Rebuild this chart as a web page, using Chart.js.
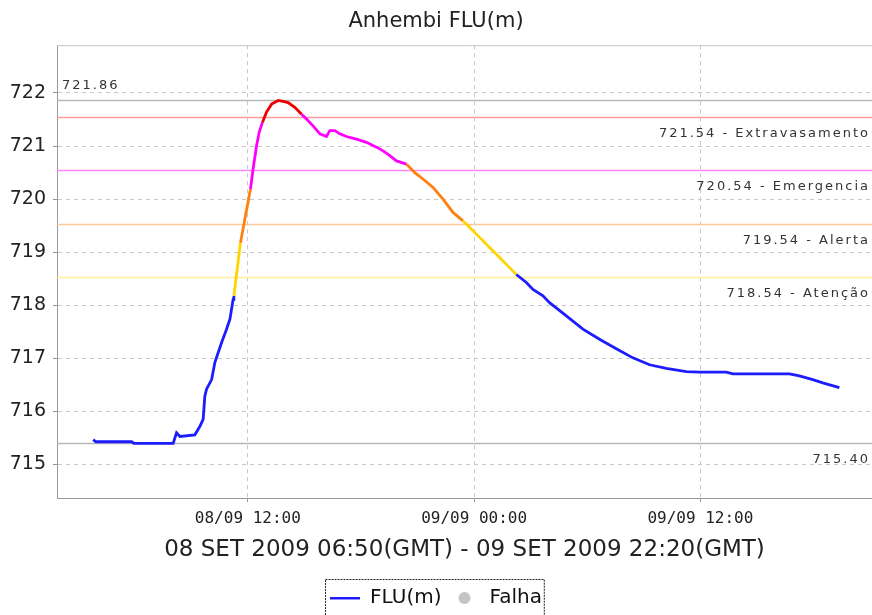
<!DOCTYPE html>
<html>
<head>
<meta charset="utf-8">
<script src="https://cdn.jsdelivr.net/npm/chart.js@4.4.1/dist/chart.umd.min.js"></script>
<style>
  html, body { margin: 0; padding: 0; background: #fff; }
</style>
</head>
<body>
<canvas id="myChart" width="872" height="615"></canvas>
<script>
// hours counted from 08/09 00:00 (local time, GMT-3)
const hours = [
  3.80, 3.94, 5.84, 5.96, 8.04, 8.22, 8.40, 9.19, 9.46, 9.63,
  9.72, 9.81, 10.08, 10.25, 10.43, 10.61, 10.87, 11.05, 11.22, 11.26,
  11.61, 12.14, 12.28, 12.46, 12.60, 12.78, 12.99, 13.26, 13.61, 13.87,
  14.14, 14.49, 14.85, 15.11, 15.46, 15.82, 16.17, 16.35, 16.61, 16.88,
  17.23, 17.76, 18.29, 18.82, 19.17, 19.53, 19.88, 20.41, 20.85, 21.29,
  21.82, 22.35, 22.88, 23.41, 23.76, 24.29, 24.82, 25.35, 25.88, 26.24,
  26.77, 27.12, 27.65, 28.00, 28.89, 29.77, 30.65, 31.54, 32.42, 33.30,
  34.19, 35.25, 35.95, 37.37, 37.72, 39.49, 40.72, 41.25, 41.96, 42.49,
  43.37
];
const level = [
  715.47, 715.43, 715.43, 715.40, 715.40, 715.60, 715.53, 715.56, 715.72, 715.85,
  716.29, 716.42, 716.60, 716.92, 717.11, 717.30, 717.55, 717.74, 718.11, 718.18,
  719.18, 720.19, 720.57, 721.00, 721.26, 721.45, 721.64, 721.79, 721.86, 721.84,
  721.82, 721.73, 721.60, 721.51, 721.38, 721.23, 721.18, 721.29, 721.29, 721.23,
  721.18, 721.13, 721.07, 720.98, 720.91, 720.82, 720.72, 720.66, 720.50, 720.38,
  720.22, 720.00, 719.75, 719.59, 719.47, 719.28, 719.09, 718.90, 718.71, 718.58,
  718.43, 718.30, 718.18, 718.05, 717.80, 717.55, 717.36, 717.18, 717.01, 716.88,
  716.81, 716.75, 716.74, 716.74, 716.71, 716.71, 716.71, 716.67, 716.60, 716.54,
  716.45
];

const limitValues = [721.86, 721.54, 720.54, 719.54, 718.54, 715.40];
const limitLabels = ['721.86', '721.54 - Extravasamento', '720.54 - Emergencia',
                     '719.54 - Alerta', '718.54 - Atenção', '715.40'];
const limitColors = ['#b8b8b8', '#ff9c9c', '#ff88ff', '#ffc898', '#fff0a0', '#b8b8b8'];

// level bands -> line colour
const bandLimits = [718.54, 719.54, 720.54, 721.54];
const bandColors = ['#1c1cff', '#ffd400', '#ff8010', '#ff00ff', '#ee0000'];

const xTicks = [12, 24, 36];
const xTickLabels = ['08/09 12:00', '09/09 00:00', '09/09 12:00'];
const yTicks = [715, 716, 717, 718, 719, 720, 721, 722];

const FONT = '"DejaVu Sans", sans-serif';

const bandColor = v => {
  let i = 0;
  while (i < bandLimits.length && v >= bandLimits[i]) i++;
  return bandColors[i];
};

// legend symbols
const lineIcon = document.createElement('canvas');
lineIcon.width = 30; lineIcon.height = 4;
let g = lineIcon.getContext('2d');
g.fillStyle = '#1c1cff'; g.fillRect(0, 1, 30, 2.5);

const dotIcon = document.createElement('canvas');
dotIcon.width = 14; dotIcon.height = 14;
g = dotIcon.getContext('2d');
g.fillStyle = '#c4c4c4'; g.beginPath(); g.arc(7, 7, 6, 0, Math.PI * 2); g.fill();

const limitLines = {
  id: 'limitLines',
  beforeDatasetsDraw(chart) {
    const {ctx, chartArea: a, scales: {y}} = chart;
    ctx.save();
    // top frame
    ctx.strokeStyle = '#c4c4c4';
    ctx.lineWidth = 1;
    ctx.beginPath(); ctx.moveTo(a.left, a.top + 0.5); ctx.lineTo(a.right, a.top + 0.5); ctx.stroke();
    ctx.font = '13px ' + FONT;
    ctx.fillStyle = '#333';
    ctx.letterSpacing = '2px';
    ctx.textBaseline = 'middle';
    limitValues.forEach((v, i) => {
      const py = Math.round(y.getPixelForValue(v)) + 0.5;
      ctx.strokeStyle = limitColors[i];
      ctx.lineWidth = 1.5;
      ctx.beginPath(); ctx.moveTo(a.left, py); ctx.lineTo(a.right, py); ctx.stroke();
      if (i === 0) {
        ctx.textAlign = 'left';
        ctx.fillText(limitLabels[i], a.left + 5, py - 15);
      } else {
        ctx.textAlign = 'right';
        ctx.fillText(limitLabels[i], a.right - 2, py + 16);
      }
    });
    ctx.restore();
  }
};

const legendFrame = {
  id: 'legendFrame',
  afterDraw(chart) {
    const boxes = chart.legend.legendHitBoxes;
    if (!boxes || !boxes.length) return;
    const left = Math.min(...boxes.map(b => b.left)) - 5;
    const right = Math.max(...boxes.map(b => b.left + b.width)) + 2;
    const top = boxes[0].top - 9;
    const {ctx} = chart;
    ctx.save();
    ctx.strokeStyle = '#222';
    ctx.lineWidth = 1;
    ctx.setLineDash([2, 1]);
    ctx.strokeRect(Math.round(left) + 0.5, Math.round(top) + 0.5, right - left, 60);
    ctx.restore();
  }
};

new Chart(document.getElementById('myChart'), {
  type: 'line',
  data: {
    datasets: [{
      label: 'FLU(m)',
      data: hours.map((h, i) => ({x: h, y: level[i]})),
      borderColor: '#1c1cff',
      borderWidth: 2.8,
      pointRadius: 0,
      pointStyle: lineIcon,
      tension: 0,
      segment: {
        borderColor: c => bandColor(c.p1.parsed.y)
      }
    }, {
      label: 'Falha',
      data: [],
      pointStyle: dotIcon,
      borderColor: '#c4c4c4',
      backgroundColor: '#c4c4c4'
    }]
  },
  options: {
    responsive: false,
    animation: false,
    devicePixelRatio: 1,
    layout: {padding: {left: 0, right: 0, top: 0, bottom: -3}},
    plugins: {
      title: {
        display: true,
        text: 'Anhembi FLU(m)',
        color: '#222',
        font: {family: FONT, size: 21, weight: 'normal'},
        padding: {top: 9, bottom: 11}
      },
      legend: {
        position: 'bottom',
        labels: {
          usePointStyle: true,
          pointStyleWidth: 30,
          color: '#111',
          padding: 8,
          font: {family: FONT, size: 20}
        }
      },
      tooltip: {enabled: false}
    },
    scales: {
      x: {
        type: 'linear',
        min: 1.88,
        max: 45.1,
        afterBuildTicks: s => { s.ticks = xTicks.map(v => ({value: v})); },
        afterFit: s => { s.height = 82; },
        ticks: {
          color: '#222',
          font: {family: '"DejaVu Sans Mono", monospace', size: 16},
          padding: 7,
          maxRotation: 0,
          callback: v => xTickLabels[xTicks.indexOf(v)]
        },
        grid: {color: '#c8c8c8', tickLength: 4, tickColor: '#999'},
        border: {color: '#999', dash: [4, 4]},
        title: {
          display: true,
          text: '08 SET 2009 06:50(GMT) - 09 SET 2009 22:20(GMT)',
          color: '#222',
          font: {family: FONT, size: 23},
          padding: {top: 0, bottom: 16}
        }
      },
      y: {
        min: 714.37,
        max: 722.9,
        afterBuildTicks: s => { s.ticks = yTicks.map(v => ({value: v})); },
        afterFit: s => { s.width = 57; },
        ticks: {
          color: '#222',
          font: {family: FONT, size: 19},
          padding: 7
        },
        grid: {color: '#c8c8c8', tickLength: 4, tickColor: '#999'},
        border: {color: '#999', dash: [4, 4]}
      }
    }
  },
  plugins: [limitLines, legendFrame]
});
</script>
</body>
</html>
